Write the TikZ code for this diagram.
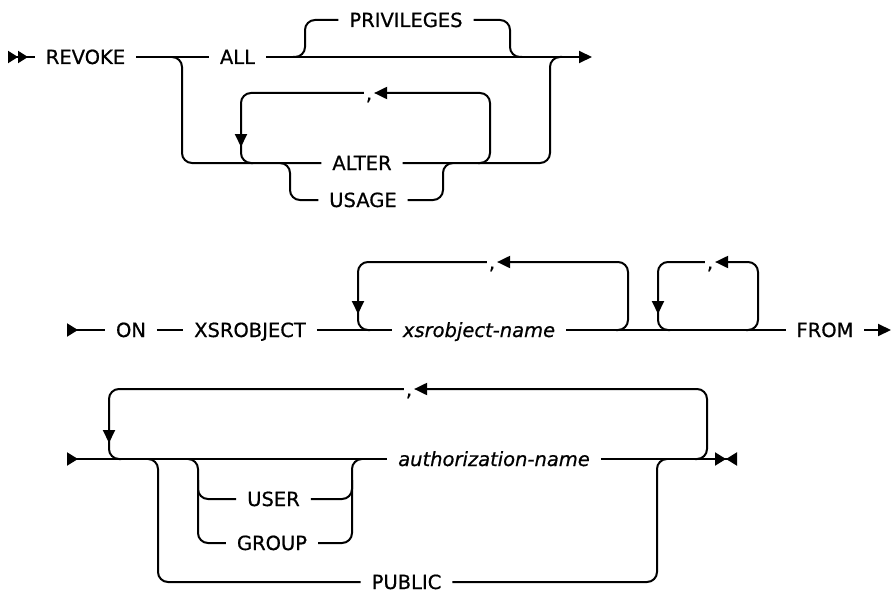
\documentclass[tikz,border=0pt]{standalone}
\usepackage{fontspec}
\setmainfont{DejaVu Sans}[FakeBold=0.7]
\usetikzlibrary{arrows.meta}

\begin{document}
\begin{tikzpicture}[
    x=1pt, y=-1pt, line width=2pt,
    kw/.style={font=\fontsize{19.5}{22}\selectfont, text height=14pt,
               text depth=0pt, inner xsep=10pt, inner ysep=0pt},
    var/.style={kw, font=\fontsize{19.5}{22}\selectfont\itshape},
    sep/.style={kw, inner xsep=1pt},
    rail/.style={rounded corners=10pt},
    back/.style={-{Triangle[length=13pt,width=12pt]}},
    lead/.style={{Triangle[reversed,length=11pt,width=13pt]}-},
    lead2/.style={{Triangle[reversed,length=10pt,width=12pt]Triangle[reversed,length=10pt,width=12pt]}-},
    stop/.style={-{Triangle[length=11pt,width=13pt]Triangle[reversed,length=11pt,width=13pt]}}
  ]
    \useasboundingbox (0,0) rectangle (892,594);

    \node[kw]  (revoke) at (85.5,57)  {REVOKE};
    \node[kw]  (all)    at (237.5,57) {ALL};
    \node[kw]  (priv)   at (406,20)   {PRIVILEGES};
    \node[sep] (c1)     at (369,93)   {,};
    \node[kw]  (alter)  at (362,163)  {ALTER};
    \node[kw]  (usage)  at (363,200)  {USAGE};

    \coordinate (r1s) at (8,57);
    \coordinate (r1e) at (592,57);

    \draw[lead2] (r1s) -- (revoke);
    \draw (revoke) -- (all);
    \draw[back] (all) -- (r1e);
    \draw[rail] (293,57) -| (305,20) -- (priv);
    \draw[rail] (priv) -| (510,57) -- (522,57);
    \draw[rail] (172,57) -| (182,163) -- (alter);
    \draw[rail] (alter) -| (550,57) -- (562,57);
    \draw[rail, back] (478,163) -| (490,93) -- (c1);
    \draw[rail, back] (c1) -| (241,147);
    \draw[rail] (241,140) |- (253,163);
    \draw[rail] (280,163) -| (290,200) -- (usage);
    \draw[rail] (usage) -| (443,163) -- (453,163);

    \node[kw]  (on)    at (131,330) {ON};
    \node[kw]  (xsro)  at (250,330) {XSROBJECT};
    \node[var] (xname) at (479,330) {xsrobject-name};
    \node[kw]  (from)  at (825,330) {FROM};
    \node[sep] (c2)    at (492,262) {,};
    \node[sep] (c3)    at (710,262) {,};

    \coordinate (r2s) at (67,330);
    \coordinate (r2e) at (891,330);

    \draw[lead] (r2s) -- (on);
    \draw (on) -- (xsro);
    \draw (xsro) -- (xname);
    \draw (xname) -- (from);
    \draw[back] (from) -- (r2e);
    \draw[rail, back] (616,330) -| (628,262) -- (c2);
    \draw[rail, back] (c2) -| (358,314);
    \draw[rail] (358,305) |- (370,330);
    \draw[rail, back] (746,330) -| (758,262) -- (c3);
    \draw[rail, back] (c3) -| (658,314);
    \draw[rail] (658,305) |- (670,330);

    \node[var] (auth)   at (494,459)   {authorization-name};
    \node[sep] (c4)     at (409,389)   {,};
    \node[kw]  (user)   at (273.5,499) {USER};
    \node[kw]  (group)  at (272,543)   {GROUP};
    \node[kw]  (public) at (406.5,582) {PUBLIC};

    \coordinate (r3s) at (67,459);
    \coordinate (r3e) at (737,459);

    \draw[lead] (r3s) -- (auth);
    \draw[stop] (auth) -- (r3e);
    \draw[rail, back] (695,459) -| (707,389) -- (c4);
    \draw[rail, back] (c4) -| (109,443);
    \draw[rail] (109,436) |- (121,459);
    \draw[rail] (148,459) -| (158,582) -- (public);
    \draw[rail] (public) -| (657,459) -- (667,459);
    \draw[rail] (188,459) -| (198,543) -- (group);
    \draw[rail] (198,480) |- (user);
    \draw[rail] (group) -| (352,459) -- (362,459);
    \draw[rail] (user) -| (352,480);
  \end{tikzpicture}
\end{document}
